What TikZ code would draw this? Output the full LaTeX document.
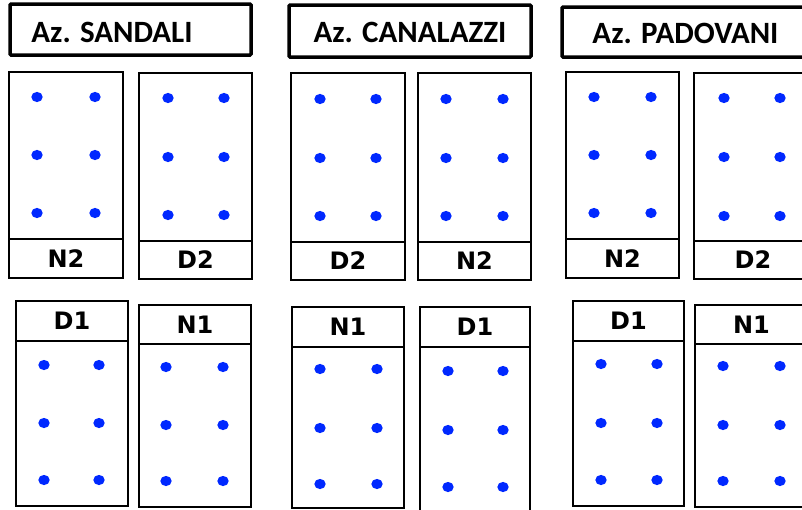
\documentclass[tikz,border=0pt]{standalone}
\usepackage{fontspec}
\setmainfont{Carlito}
\newfontfamily\lblfont{DejaVu Sans}
\definecolor{dotblue}{RGB}{0,40,255}
\tikzset{
  box/.style={draw=black, line width=2pt},
  titlebox/.style={draw=black, line width=3.5pt, rounded corners=1pt},
  titletext/.style={font=\bfseries\fontsize{31}{31}\selectfont, inner sep=0pt},
  lbl/.style={font=\lblfont\bfseries\fontsize{24}{24}\selectfont, inner sep=0pt},
  dotmark/.style={fill=dotblue, draw=none}
}
% #1 name, #2 x1, #3 ytop, #4 x2, #5 ybot, #6 ydiv, #7 label y, #8 label
\newcommand\plotbox[8]{%
  \draw[box] (#2,#3) rectangle (#4,#5);
  \draw[box] (#2,#6) -- (#4,#6);
  \node[lbl] (#1) at ({(#2+#4)/2},#7) {#8};}
% #1 #2 dot x, #3 #4 #5 dot y
\newcommand\dotgrid[5]{%
  \foreach \yy in {#3,#4,#5} {
    \fill[dotmark] (#1,\yy) ellipse (5.7 and 5.1);
    \fill[dotmark] (#2,\yy) ellipse (5.7 and 5.1);}}
\begin{document}
\begin{tikzpicture}[x=1pt,y=-1pt]
\useasboundingbox (0,0) rectangle (802,509);
\clip (0,0) rectangle (802,509);
\fill[white] (0,0) rectangle (802,509);

% ---- titles
\draw[titlebox] (10,4) rectangle (251,55);
\node[titletext] (tsandali) at (112,32.5) {Az. SANDALI};
\draw[titlebox] (289,5) rectangle (531,57);
\node[titletext] (tcanalazzi) at (410,32.5) {Az. CANALAZZI};
\draw[titlebox] (562,7) rectangle (815,57);
\node[titletext] (tpadovani) at (685.5,33) {Az. PADOVANI};

% ---- SANDALI
\plotbox{sa1}{9}{72}{123}{278}{239}{258.5}{N2}
\dotgrid{37}{95}{97}{155}{213}
\plotbox{sa2}{139}{73}{252}{279}{241}{260}{D2}
\dotgrid{168}{224}{98}{157}{215}
\plotbox{sa3}{16}{301}{128}{506}{341}{321}{D1}
\dotgrid{44}{99}{365}{423}{480}
\plotbox{sa4}{139}{305}{251}{507}{344}{324.5}{N1}
\dotgrid{166}{223}{367}{425}{481}

% ---- CANALAZZI
\plotbox{ca1}{291}{73}{405}{280}{242}{261}{D2}
\dotgrid{320}{376}{99}{158}{216}
\plotbox{ca2}{418}{73}{531}{280}{242}{261}{N2}
\dotgrid{446}{503}{99}{158}{216}
\plotbox{ca3}{292}{307}{404}{508}{347}{327}{N1}
\dotgrid{320}{377}{369}{428}{484}
\plotbox{ca4}{420}{307}{530}{515}{347}{327}{D1}
\dotgrid{448}{503}{371}{430}{487}

% ---- PADOVANI
\plotbox{pa1}{566}{72}{679}{278}{239}{258.5}{N2}
\dotgrid{594}{651}{97}{155}{213}
\plotbox{pa2}{694}{73}{812}{279}{241}{260}{D2}
\dotgrid{724}{780}{98}{157}{216}
\plotbox{pa3}{573}{301}{684}{506}{341}{321}{D1}
\dotgrid{601}{657}{364}{423}{480}
\plotbox{pa4}{695}{305}{808}{507}{344}{324.5}{N1}
\dotgrid{723}{780}{366}{425}{481}
\end{tikzpicture}
\end{document}
